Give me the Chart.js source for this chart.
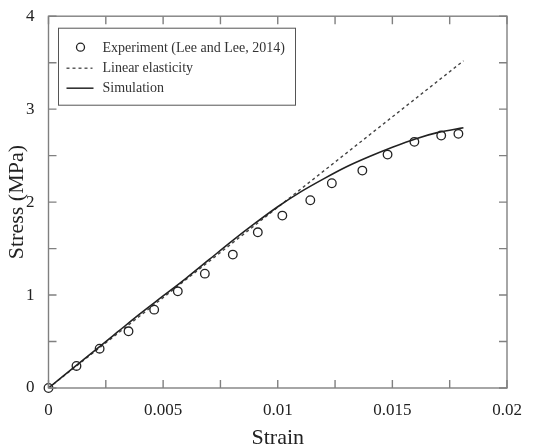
<!DOCTYPE html>
<html lang="en">
<head>
  <meta charset="UTF-8">
  <title>Stress - Strain</title>
  <script src="https://cdn.jsdelivr.net/npm/chart.js"></script>
  <style>
    body { margin: 0; background: #fff; }
    .chart-container { width: 556px; height: 447px; position: relative; }
  </style>
</head>
<body>

<div class="chart-container"><canvas id="stressChart"></canvas></div>

<script>
  // Experiment (Lee and Lee, 2014)
  const expStrain = [0, 0.00122, 0.00223, 0.00349, 0.00461, 0.00564, 0.00682, 0.00804, 0.00913, 0.0102, 0.01142, 0.01236, 0.01369, 0.01479, 0.01596, 0.01713, 0.01788];
  const expStress = [0, 0.237, 0.423, 0.610, 0.843, 1.040, 1.230, 1.435, 1.675, 1.855, 2.020, 2.203, 2.339, 2.511, 2.648, 2.716, 2.734];

  // Linear elasticity
  const linStrain = [0, 0.0181];
  const linStress = [0, 3.52];

  // Simulation
  const simStrain = [0, 0.001, 0.002, 0.003, 0.004, 0.005, 0.006, 0.007, 0.008, 0.009, 0.010, 0.011, 0.012, 0.013, 0.014, 0.015, 0.016, 0.017, 0.0181];
  const simStress = [0, 0.20, 0.40, 0.60, 0.80, 0.99, 1.18, 1.38, 1.58, 1.77, 1.95, 2.11, 2.25, 2.38, 2.49, 2.59, 2.68, 2.75, 2.80];

  const legendLabels = ['Experiment (Lee and Lee, 2014)', 'Linear elasticity', 'Simulation'];

  const toXY = (xs, ys) => xs.map((x, i) => ({ x: x, y: ys[i] }));

  const FRAME = '#808080';
  const SERIF = '"Liberation Serif", "Times New Roman", serif';

  // inward ticks on all four sides + frame + legend box
  const framePlugin = {
    id: 'frame',
    afterDraw(chart) {
      const ctx = chart.ctx;
      const a = chart.chartArea;
      const xs = chart.scales.x, ys = chart.scales.y;
      const len = 8;
      ctx.save();
      ctx.strokeStyle = FRAME;
      ctx.lineWidth = 1.4;
      ctx.strokeRect(a.left, a.top, a.right - a.left, a.bottom - a.top);
      ctx.beginPath();
      xs.ticks.forEach(t => {
        const px = xs.getPixelForValue(t.value);
        ctx.moveTo(px, a.bottom); ctx.lineTo(px, a.bottom - len);
        ctx.moveTo(px, a.top); ctx.lineTo(px, a.top + len);
      });
      ys.ticks.forEach(t => {
        const py = ys.getPixelForValue(t.value);
        ctx.moveTo(a.left, py); ctx.lineTo(a.left + len, py);
        ctx.moveTo(a.right, py); ctx.lineTo(a.right - len, py);
      });
      ctx.stroke();

      // legend
      const bx = a.left + 10, by = a.top + 12, bw = 237, bh = 77;
      ctx.fillStyle = '#fff';
      ctx.fillRect(bx, by, bw, bh);
      ctx.strokeStyle = '#555';
      ctx.lineWidth = 1;
      ctx.strokeRect(bx, by, bw, bh);
      const rows = [by + 20, by + 40, by + 60];
      const tx = bx + 44;
      ctx.strokeStyle = '#222';
      ctx.lineWidth = 1.3;
      ctx.beginPath();
      ctx.arc(bx + 22, rows[0] - 1, 4, 0, Math.PI * 2);
      ctx.stroke();
      ctx.setLineDash([3, 3]);
      ctx.strokeStyle = '#444';
      ctx.beginPath();
      ctx.moveTo(bx + 8, rows[1]); ctx.lineTo(bx + 34, rows[1]);
      ctx.stroke();
      ctx.setLineDash([]);
      ctx.strokeStyle = '#333';
      ctx.lineWidth = 1.6;
      ctx.beginPath();
      ctx.moveTo(bx + 8, rows[2]); ctx.lineTo(bx + 35, rows[2]);
      ctx.stroke();
      ctx.fillStyle = '#333';
      ctx.font = '14px ' + SERIF;
      ctx.textBaseline = 'middle';
      legendLabels.forEach((lab, i) => ctx.fillText(lab, tx, rows[i]));
      ctx.restore();
    }
  };

  new Chart(document.getElementById('stressChart'), {
    type: 'scatter',
    data: {
      datasets: [
        {
          label: legendLabels[0],
          data: toXY(expStrain, expStress),
          showLine: false,
          clip: false,
          pointStyle: 'circle',
          pointRadius: 4.3,
          borderColor: '#222',
          backgroundColor: 'rgba(255,255,255,0)',
          borderWidth: 1.3,
          order: 0
        },
        {
          label: legendLabels[1],
          data: toXY(linStrain, linStress),
          showLine: true,
          pointRadius: 0,
          borderColor: '#444',
          borderWidth: 1.4,
          borderDash: [3, 3],
          order: 2
        },
        {
          label: legendLabels[2],
          data: toXY(simStrain, simStress),
          showLine: true,
          pointRadius: 0,
          borderColor: '#222',
          borderWidth: 1.6,
          cubicInterpolationMode: 'monotone',
          order: 1
        }
      ]
    },
    options: {
      responsive: true,
      maintainAspectRatio: false,
      animation: false,
      layout: { padding: { left: 0, right: 49, top: 16, bottom: 0 } },
      scales: {
        x: {
          type: 'linear',
          min: 0,
          max: 0.02,
          grid: { display: false },
          border: { display: false },
          afterFit: s => { s.height = 59; },
          afterBuildTicks: s => {
            s.ticks = [];
            for (let i = 0; i <= 8; i++) s.ticks.push({ value: i * 0.0025 });
          },
          ticks: {
            autoSkip: false,
            maxRotation: 0,
            padding: 4,
            color: '#222',
            font: { family: SERIF, size: 17 },
            callback: (v, i) => (i % 2 === 0 ? String(+v.toFixed(4)) : '')
          },
          title: {
            display: true,
            text: 'Strain',
            color: '#222',
            font: { family: SERIF, size: 22, lineHeight: 0.8 },
            padding: { top: 4, bottom: 0 }
          }
        },
        y: {
          type: 'linear',
          min: 0,
          max: 4,
          grid: { display: false },
          border: { display: false },
          afterFit: s => { s.width = 48.5; },
          afterBuildTicks: s => {
            s.ticks = [];
            for (let i = 0; i <= 8; i++) s.ticks.push({ value: i * 0.5 });
          },
          ticks: {
            autoSkip: false,
            padding: 6,
            color: '#222',
            font: { family: SERIF, size: 17 },
            callback: (v, i) => (i % 2 === 0 ? String(v) : '')
          },
          title: {
            display: true,
            text: 'Stress (MPa)',
            color: '#222',
            font: { family: SERIF, size: 22 },
            padding: { top: 4, bottom: 0 }
          }
        }
      },
      plugins: {
        legend: { display: false },
        tooltip: { enabled: false }
      }
    },
    plugins: [framePlugin]
  });
</script>

</body>
</html>
